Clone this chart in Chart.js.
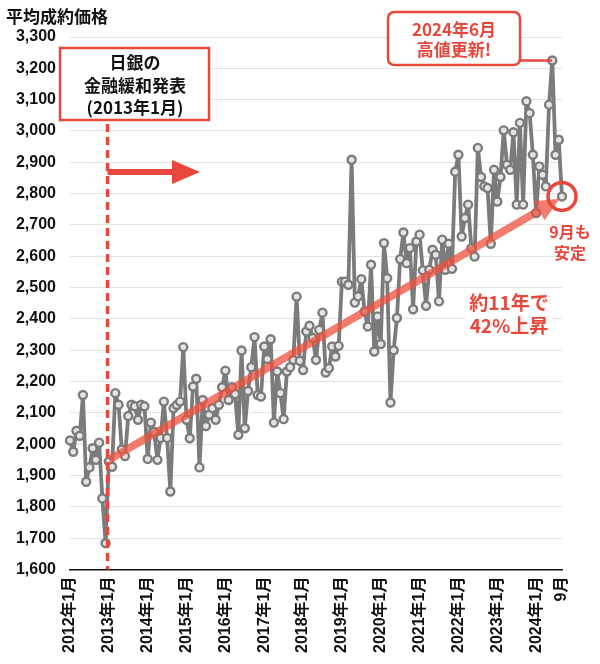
<!DOCTYPE html>
<html><head><meta charset="utf-8">
<script src="https://cdn.jsdelivr.net/npm/chart.js@4"></script>
<style>html,body{margin:0;padding:0;background:#fff;}#wrap{width:600px;height:664px;position:relative;}</style>
</head><body><div id="wrap"><canvas id="c" width="600" height="664"></canvas></div>
<script>
// ---- data (平均成約価格, 万円) ----
const years = [2012,2013,2014,2015,2016,2017,2018,2019,2020,2021,2022,2023,2024];
const v2012 = [2012,1976,2043,2027,2157,1880,1926,1987,1950,2005,1827,1684];
const v2013 = [1945,1928,2163,2126,1983,1962,2090,2126,2121,2078,2126,2121];
const v2014 = [1953,2069,2040,1950,2020,2136,2020,1849,2115,2125,2136,2310];
const v2015 = [2078,2019,2184,2209,1926,2141,2058,2094,2115,2078,2126,2182];
const v2016 = [2235,2141,2182,2160,2030,2299,2051,2170,2246,2342,2157,2152];
const v2017 = [2312,2272,2335,2069,2232,2163,2080,2232,2246,2269,2471,2266];
const v2018 = [2237,2360,2378,2339,2269,2365,2420,2229,2243,2312,2280,2314];
const v2019 = [2519,2519,2509,2908,2452,2472,2527,2424,2376,2573,2296,2408];
const v2020 = [2320,2642,2530,2133,2300,2403,2591,2676,2578,2626,2431,2647];
const v2021 = [2669,2555,2442,2557,2621,2605,2456,2653,2557,2640,2560,2870];
const v2022 = [2924,2663,2722,2765,2626,2599,2946,2853,2823,2818,2640,2876];
const v2023 = [2775,2853,3002,2892,2876,2996,2765,3026,2765,3095,3057,2924];
const v2024 = [2738,2887,2860,2823,3084,3225,2924,2972,2791];
const yearValues = [v2012,v2013,v2014,v2015,v2016,v2017,v2018,v2019,v2020,v2021,v2022,v2023,v2024];
const yTicks = [1600,1700,1800,1900,2000,2100,2200,2300,2400,2500,2600,2700,2800,2900,3000,3100,3200,3300];

// annotation anchors (data space)
const bojIndex = 12;          // 2013年1月
const trendStart = 1950;      // trend arrow start value
const trendEndIndex = 151.3;
const trendEnd = 2784;
const peakIndex = 149;        // 2024年6月

// build categories
const categories = [], values = [], tickLabels = [];
yearValues.forEach((arr, yi) => {
  arr.forEach((v, mi) => {
    categories.push(years[yi] + '-' + (mi + 1));
    values.push(v);
    tickLabels.push(mi === 0 ? years[yi] + '年1月' : '');
  });
});
tickLabels[tickLabels.length - 1] = '9月';

const RED = '#e8473b';
const FONT = "'Liberation Sans','Noto Sans CJK JP',sans-serif";
const JFONT = "'Noto Sans CJK JP','Liberation Sans',sans-serif";

function arrowPoly(ctx, x1, y1, x2, y2, hw, headW, headL) {
  const dx = x2 - x1, dy = y2 - y1, len = Math.hypot(dx, dy);
  const ux = dx / len, uy = dy / len, px = -uy, py = ux;
  const bx = x2 - ux * headL, by = y2 - uy * headL;
  ctx.beginPath();
  ctx.moveTo(x1 + px * hw, y1 + py * hw);
  ctx.lineTo(bx + px * hw, by + py * hw);
  ctx.lineTo(bx + px * headW, by + py * headW);
  ctx.lineTo(x2, y2);
  ctx.lineTo(bx - px * headW, by - py * headW);
  ctx.lineTo(bx - px * hw, by - py * hw);
  ctx.lineTo(x1 - px * hw, y1 - py * hw);
  ctx.closePath();
  ctx.fill();
}
function roundRect(ctx, x, y, w, h, r) {
  ctx.beginPath();
  ctx.moveTo(x + r, y); ctx.lineTo(x + w - r, y); ctx.quadraticCurveTo(x + w, y, x + w, y + r);
  ctx.lineTo(x + w, y + h - r); ctx.quadraticCurveTo(x + w, y + h, x + w - r, y + h);
  ctx.lineTo(x + r, y + h); ctx.quadraticCurveTo(x, y + h, x, y + h - r);
  ctx.lineTo(x, y + r); ctx.quadraticCurveTo(x, y, x + r, y);
  ctx.closePath();
}

const annot = {
  id: 'annot',
  afterDatasetsDraw(chart) {
    const { ctx, scales: { x, y }, chartArea: ca } = chart;
    ctx.save();
    // title
    ctx.fillStyle = '#111'; ctx.font = 'bold 17px ' + JFONT;
    ctx.textAlign = 'left'; ctx.textBaseline = 'middle';
    ctx.fillText('平均成約価格', 6, 17);

    // BOJ dashed line
    const xd = x.getPixelForValue(bojIndex - 0.4);
    ctx.strokeStyle = RED; ctx.lineWidth = 3.5; ctx.setLineDash([8, 5]);
    ctx.beginPath(); ctx.moveTo(xd, 124); ctx.lineTo(xd, ca.bottom); ctx.stroke();
    ctx.setLineDash([]);
    // BOJ box
    ctx.fillStyle = '#fff'; ctx.fillRect(60, 48, 149, 72);
    ctx.strokeStyle = RED; ctx.lineWidth = 2.5; ctx.strokeRect(60, 48, 149, 72);
    ctx.fillStyle = '#111'; ctx.font = 'bold 17px ' + JFONT; ctx.textAlign = 'center';
    ctx.fillText('日銀の', 135, 63);
    ctx.fillText('金融緩和発表', 135, 86);
    ctx.fillText('(2013年1月)', 135, 108);
    // horizontal arrow
    ctx.fillStyle = RED;
    arrowPoly(ctx, xd, 172, 200, 172, 3, 12, 28);

    // trend arrow
    ctx.fillStyle = 'rgba(238,80,62,0.75)';
    arrowPoly(ctx, x.getPixelForValue(bojIndex), y.getPixelForValue(trendStart),
      x.getPixelForValue(trendEndIndex), y.getPixelForValue(trendEnd), 3.8, 11, 24);

    // circle around last point
    const lx = x.getPixelForValue(values.length - 1), ly = y.getPixelForValue(values[values.length - 1]);
    ctx.strokeStyle = RED; ctx.lineWidth = 3.5;
    ctx.beginPath(); ctx.arc(lx, ly, 14, 0, Math.PI * 2); ctx.stroke();
    ctx.fillStyle = RED; ctx.font = 'bold 16px ' + JFONT;
    ctx.fillText('9月も', 570, 232);
    ctx.fillText('安定', 570, 253);

    // 11 year text
    ctx.fillStyle = '#fff'; ctx.fillRect(466, 292, 86, 46);
    ctx.fillStyle = RED; ctx.font = 'bold 19px ' + JFONT;
    ctx.fillText('約11年で', 509, 303);
    ctx.fillText('42%上昇', 509, 326);

    // callout
    const px = x.getPixelForValue(peakIndex), py = y.getPixelForValue(values[peakIndex]);
    ctx.strokeStyle = RED; ctx.lineWidth = 2.5;
    ctx.beginPath(); ctx.moveTo(515, py); ctx.lineTo(px, py); ctx.stroke();
    roundRect(ctx, 388, 12, 132, 53, 7);
    ctx.fillStyle = '#fff'; ctx.fill(); ctx.stroke();
    ctx.fillStyle = RED; ctx.font = 'bold 17px ' + JFONT;
    ctx.fillText('2024年6月', 454, 30);
    ctx.fillText('高値更新!', 454, 50);
    ctx.restore();
  }
};

new Chart(document.getElementById('c'), {
  type: 'line',
  data: {
    labels: categories,
    datasets: [{
      data: values,
      borderColor: '#7b7b7b', borderWidth: 3.8,
      borderJoinStyle: 'round', borderCapStyle: 'round',
      pointRadius: 4, pointBorderWidth: 2.4,
      pointBorderColor: '#7b7b7b', pointBackgroundColor: '#e4e4e4',
      tension: 0, clip: false
    }]
  },
  options: {
    responsive: false, animation: false,
    devicePixelRatio: 1,
    layout: { padding: { top: 37, right: 38, left: 0, bottom: 0 } },
    plugins: { legend: { display: false }, tooltip: { enabled: false } },
    scales: {
      x: {
        grid: { display: false, drawTicks: false },
        border: { display: true, color: '#111', width: 1.5 },
        ticks: {
          autoSkip: false, minRotation: 90, maxRotation: 90, padding: 7,
          color: '#111', font: { family: FONT, size: 16, weight: 'bold' },
          callback: (v, i) => tickLabels[i]
        },
        afterFit: s => { s.height = 94.5; }
      },
      y: {
        min: yTicks[0], max: yTicks[yTicks.length - 1],
        afterBuildTicks: s => { s.ticks = yTicks.map(v => ({ value: v })); },
        grid: { color: '#e2e2e2', lineWidth: 1, drawTicks: false },
        border: { display: false },
        ticks: {
          padding: 14, color: '#111', font: { family: FONT, size: 16, weight: 'bold' },
          callback: v => v.toLocaleString('en-US')
        },
        afterFit: s => { s.width = 70; }
      }
    }
  },
  plugins: [annot]
});
</script></body></html>
